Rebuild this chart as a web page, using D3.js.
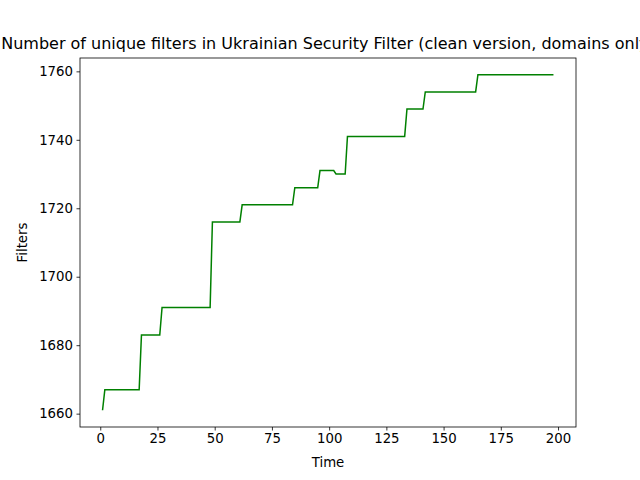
<!DOCTYPE html>
<html><head><meta charset="utf-8">
<script src="https://cdn.jsdelivr.net/npm/d3@7"></script>
<style>body{margin:0;background:#fff}text{font-family:"DejaVu Sans",sans-serif}</style>
</head><body><svg id="c" width="640" height="480"></svg>
<script>
const times  = [1,2,17,18,26,27,48,49,61,62,84,85,95,96,102,103,107,108,133,134,141,142,164,165,198];
const values = [1661,1667,1667,1683,1683,1691,1691,1716,1716,1721,1721,1726,1726,1731,1731,1730,1730,1741,1741,1749,1749,1754,1754,1759,1759];
const xTicks = [0,25,50,75,100,125,150,175,200];
const yTicks = [1660,1680,1700,1720,1740,1760];
const title = "Number of unique filters in Ukrainian Security Filter (clean version, domains only)";

const svg = d3.select("#c");
const L=80,R=576,T=58,B=427;
const x = d3.scaleLinear().domain([-8.85,207.85]).range([L,R]);
const y = d3.scaleLinear().domain([1656.1,1763.9]).range([B,T]);
const xa = svg.append("g").attr("transform",`translate(0,${B})`).call(d3.axisBottom(x).tickValues(xTicks).tickFormat(d3.format("d")).tickSize(3.5).tickPadding(3.5));
const ya = svg.append("g").attr("transform",`translate(${L},0)`).call(d3.axisLeft(y).tickValues(yTicks).tickFormat(d3.format("d")).tickSize(3.5).tickPadding(3.5));
[xa,ya].forEach(a=>{a.select(".domain").remove();a.selectAll("text").attr("font-size",13.3).attr("font-family","DejaVu Sans").attr("fill","#000");a.selectAll("line").attr("stroke","#000").attr("stroke-width",0.8);});
svg.append("rect").attr("x",L).attr("y",T).attr("width",R-L).attr("height",B-T).attr("fill","none").attr("stroke","#000").attr("stroke-width",0.8);
svg.append("path").datum(times.map((t,i)=>[t,values[i]])).attr("fill","none").attr("stroke","green").attr("stroke-width",1.5)
  .attr("d",d3.line().x(d=>x(d[0])).y(d=>y(d[1])));
svg.append("text").attr("x",(L+R)/2).attr("y",49).attr("text-anchor","middle").attr("font-size",16).text(title);
svg.append("text").attr("x",(L+R)/2).attr("y",467).attr("text-anchor","middle").attr("font-size",13.3).text("Time");
svg.append("text").attr("transform",`translate(27,${(T+B)/2}) rotate(-90)`).attr("text-anchor","middle").attr("font-size",13.3).text("Filters");
</script></body></html>
